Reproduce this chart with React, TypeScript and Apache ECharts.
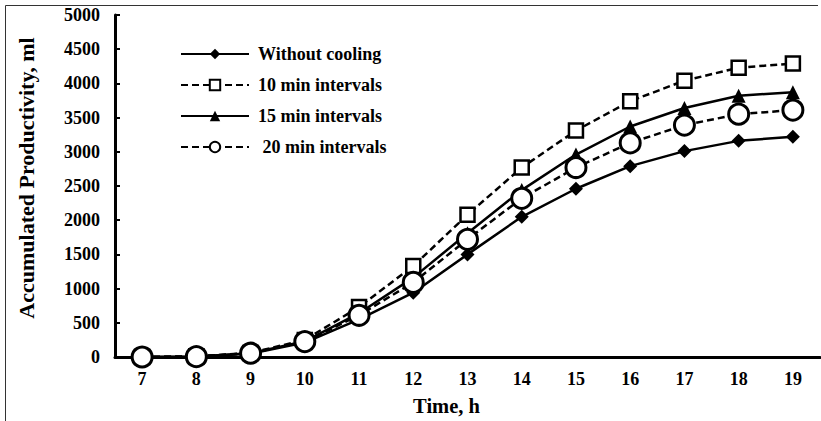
import React, { useEffect, useRef } from "react";
import * as echarts from "echarts";

const hours = ["7", "8", "9", "10", "11", "12", "13", "14", "15", "16", "17", "18", "19"];
const withoutCooling = [0, 5, 50, 210, 550, 940, 1500, 2050, 2460, 2790, 3010, 3160, 3220];
const min10 = [0, 10, 60, 250, 730, 1330, 2080, 2770, 3310, 3740, 4040, 4230, 4290];
const min15 = [0, 8, 55, 230, 640, 1160, 1810, 2440, 2960, 3370, 3640, 3820, 3870];
const min20 = [0, 5, 55, 225, 610, 1090, 1720, 2320, 2770, 3130, 3390, 3550, 3610];
const seriesNames = ["Without cooling", "10 min intervals", "15 min intervals", " 20 min intervals"];

const FONT = "Liberation Serif";

export default function App() {
  const ref = useRef<HTMLDivElement>(null);
  useEffect(() => {
    if (!ref.current) return;
    const chart = echarts.init(ref.current, undefined, { renderer: "svg" });
    const dash = [7, 4];
    chart.setOption({
      animation: false,
      backgroundColor: "#fff",
      textStyle: { fontFamily: FONT, fontWeight: "bold", color: "#000" },
      grid: { left: 115, right: 1, top: 15, bottom: 62, containLabel: false },
      legend: {
        orient: "vertical",
        left: 180,
        top: 45,
        padding: 0,
        itemWidth: 68,
        itemHeight: 13,
        itemGap: 13,
        textStyle: { fontFamily: FONT, fontWeight: "bold", fontSize: 18, color: "#000", padding: [0, 0, 0, 4] },
        data: seriesNames,
      },
      xAxis: {
        type: "category",
        data: hours,
        boundaryGap: true,
        name: "Time, h",
        nameLocation: "middle",
        nameGap: 38,
        nameTextStyle: { fontFamily: FONT, fontWeight: "bold", fontSize: 20.5, color: "#000", padding: [0, 42, 0, 0] },
        axisLine: { lineStyle: { color: "#000", width: 3 } },
        axisTick: { inside: true, length: 5, lineStyle: { color: "#000", width: 2 } },
        axisLabel: { fontFamily: FONT, fontWeight: "bold", fontSize: 18, color: "#000", margin: 13 },
        splitLine: { show: false },
      },
      yAxis: {
        type: "value",
        min: 0,
        max: 5000,
        interval: 500,
        name: "Accumulated Productivity, ml",
        nameLocation: "middle",
        nameGap: 78,
        nameTextStyle: { fontFamily: FONT, fontWeight: "bold", fontSize: 22, color: "#000", padding: [0, 0, 0, 16] },
        axisLine: { show: true, lineStyle: { color: "#000", width: 3 } },
        axisTick: { show: true, inside: true, length: 5, lineStyle: { color: "#000", width: 2 } },
        axisLabel: {
          fontFamily: FONT,
          fontWeight: "bold",
          fontSize: 18,
          color: "#000",
          margin: 15,
          formatter: (v: number) => String(v),
        },
        splitLine: { show: false },
      },
      series: [
        {
          name: seriesNames[0],
          type: "line",
          data: withoutCooling,
          symbol: "diamond",
          symbolSize: 14,
          itemStyle: { color: "#000" },
          lineStyle: { color: "#000", width: 2.5 },
        },
        {
          name: seriesNames[1],
          type: "line",
          data: min10,
          symbol: "rect",
          symbolSize: 14,
          itemStyle: { color: "#fff", borderColor: "#000", borderWidth: 2.5 },
          lineStyle: { color: "#000", width: 2.5, type: dash },
        },
        {
          name: seriesNames[2],
          type: "line",
          data: min15,
          symbol: "triangle",
          symbolSize: 14,
          itemStyle: { color: "#000" },
          lineStyle: { color: "#000", width: 2.5 },
        },
        {
          name: seriesNames[3],
          type: "line",
          data: min20,
          symbol: "circle",
          symbolSize: 20,
          itemStyle: { color: "#fff", borderColor: "#000", borderWidth: 3 },
          lineStyle: { color: "#000", width: 2.5, type: dash },
        },
      ],
      graphic: [
        {
          type: "polyline",
          silent: true,
          shape: { points: [[5.5, 421], [5.5, 5.5], [818, 5.5]] },
          style: { stroke: "#333", lineWidth: 1, fill: "none" },
        },
      ],
    });
    return () => chart.dispose();
  }, []);
  return <div ref={ref} style={{ position: "absolute", left: 0, top: 0, width: 821, height: 421 }} />;
}
